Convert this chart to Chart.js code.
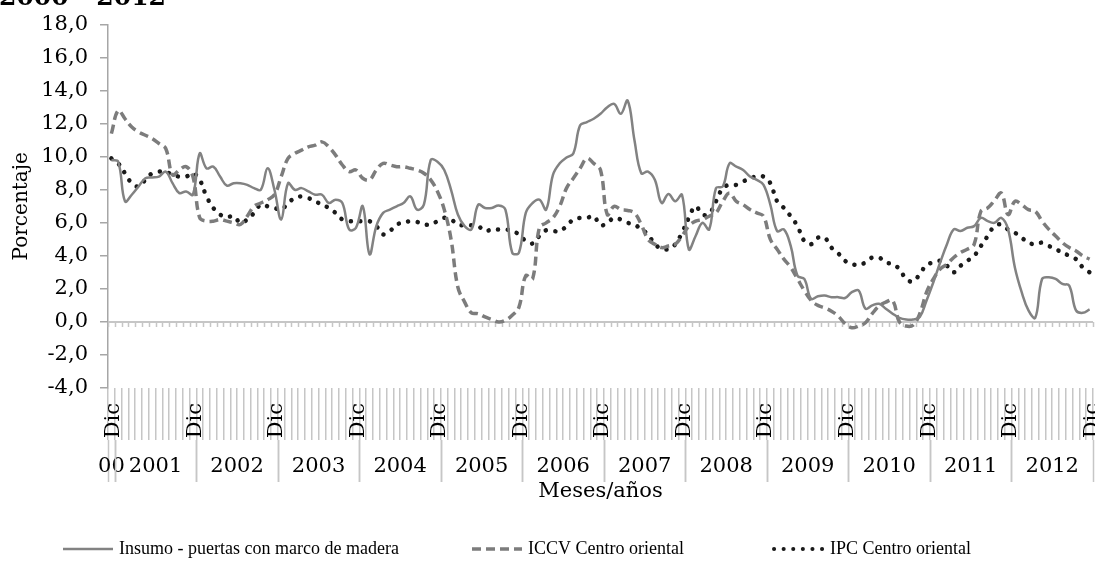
<!DOCTYPE html>
<html>
<head>
<meta charset="utf-8">
<script src="https://cdn.jsdelivr.net/npm/chart.js@4.4.1/dist/chart.umd.min.js"></script>
<style>
  html, body { margin: 0; padding: 0; background: #ffffff; overflow: hidden; }
  #wrap { position: relative; width: 1095px; height: 563px; }
</style>
</head>
<body>
<div id="wrap"><canvas id="chart" width="1095" height="563"></canvas></div>
<script>
// Monthly annual variation (%), December 2000 to December 2012
const chartTitle = '2000 - 2012';
const monthNames = ['Ene', 'Feb', 'Mar', 'Abr', 'May', 'Jun', 'Jul', 'Ago', 'Sep', 'Oct', 'Nov', 'Dic'];
const yearValues = [2000, 2001, 2002, 2003, 2004, 2005, 2006, 2007, 2008, 2009, 2010, 2011, 2012];
const yearLabels = ['00', '2001', '2002', '2003', '2004', '2005', '2006', '2007', '2008', '2009', '2010', '2011', '2012'];
const seriesNames = ['Insumo - puertas con marco de madera', 'ICCV Centro oriental', 'IPC Centro oriental'];
const yTicks = [-4, -2, 0, 2, 4, 6, 8, 10, 12, 14, 16, 18];

const insumo = [
  9.8, 9.7, 7.3, 7.7, 8.2, 8.7, 8.75, 8.8, 9.1, 8.4, 7.8, 7.9, 7.7,
  10.2, 9.3, 9.4, 8.8, 8.25, 8.4, 8.4, 8.3, 8.1, 8.0, 9.3, 8.0,
  6.2, 8.4, 8.0, 8.1, 7.9, 7.7, 7.7, 7.2, 7.4, 7.2, 5.6, 5.7,
  7.0, 4.1, 5.8, 6.6, 6.8, 7.0, 7.2, 7.6, 6.8, 7.1, 9.8, 9.7,
  9.2, 8.0, 6.5, 5.8, 5.6, 7.1, 6.9, 6.9, 7.05, 6.8, 4.2, 4.2,
  6.6, 7.2, 7.4, 6.8, 8.9, 9.6, 9.95, 10.2, 11.9, 12.1, 12.3, 12.6,
  13.0, 13.2, 12.6, 13.4, 11.0, 9.0, 9.1, 8.6, 7.2, 7.75, 7.3, 7.7,
  4.4, 5.2, 6.0, 5.6, 8.1, 8.2, 9.6, 9.4, 9.2, 8.8, 8.6, 8.3,
  7.1, 5.5, 5.6, 4.6, 2.8, 2.6, 1.4, 1.55, 1.6, 1.5, 1.5, 1.45,
  1.8, 1.9, 0.8, 1.0, 1.1, 0.8, 0.5, 0.25, 0.15, 0.15, 0.3, 1.3,
  2.4, 3.6, 4.7, 5.6, 5.5, 5.7, 5.8, 6.3, 6.1, 6.0, 6.3, 5.6,
  3.3, 1.8, 0.7, 0.25, 2.6, 2.7, 2.6, 2.3, 2.2, 0.7, 0.55, 0.76
];

const iccv = [
  11.4, 12.8, 12.3, 11.8, 11.5, 11.3, 11.1, 10.8, 10.5, 8.9, 9.2, 9.4, 8.8,
  6.3, 6.1, 6.1, 6.2, 6.1, 6.0, 5.9, 6.4, 7.0, 7.2, 7.4, 7.7,
  8.8, 9.9, 10.2, 10.4, 10.6, 10.7, 10.9, 10.6, 10.1, 9.5, 9.1, 9.2,
  8.7, 8.6, 9.2, 9.6, 9.5, 9.4, 9.4, 9.3, 9.2, 9.0, 8.6, 7.9,
  6.8, 5.0, 2.1, 1.2, 0.55, 0.5, 0.3, 0.15, 0.0, 0.1, 0.4, 0.9,
  2.8, 2.6, 5.7, 6.0, 6.3, 7.0, 8.1, 8.7, 9.3, 9.9, 9.6, 9.2,
  6.5, 7.0, 6.8, 6.75, 6.6, 5.9, 5.0, 4.7, 4.5, 4.6, 4.7, 5.2,
  5.8, 6.1, 6.2, 6.4, 6.6, 7.3, 7.8, 7.3, 7.1, 6.8, 6.6, 6.4,
  5.0, 4.4, 3.8, 3.3, 2.6, 1.9, 1.3, 1.0, 0.85, 0.65, 0.35, -0.1,
  -0.35, -0.25, -0.05, 0.5, 0.96, 1.2, 1.3, 0.0, -0.25, -0.2, 0.5, 1.8,
  2.6, 3.2, 3.5, 3.9, 4.2, 4.4, 4.7, 6.7, 6.9, 7.35, 7.8, 6.5,
  7.3, 7.1, 6.8, 6.7, 6.1, 5.6, 5.2, 4.8, 4.5, 4.3, 4.0, 3.8
];

const ipc = [
  9.9, 9.6, 9.0, 8.4, 8.2, 8.6, 9.0, 9.1, 9.1, 8.9, 8.8, 8.8, 9.0,
  8.6, 7.6, 6.9, 6.5, 6.35, 6.4, 6.0, 6.2, 6.6, 7.1, 7.0, 6.9,
  6.8, 7.2, 7.5, 7.6, 7.5, 7.3, 7.1, 6.9, 6.6, 6.2, 6.1, 6.1,
  6.1, 6.1, 5.8, 5.3, 5.5, 5.9, 6.0, 6.1, 6.05, 5.9, 5.9, 6.1,
  6.3, 6.2, 5.9, 5.85, 5.85, 5.8, 5.5, 5.6, 5.6, 5.6, 5.5, 5.3,
  4.9, 4.75, 5.2, 5.55, 5.5, 5.5, 5.8, 6.2, 6.3, 6.3, 6.4, 5.85,
  6.0, 6.3, 6.2, 6.0, 5.9, 5.6, 5.3, 4.7, 4.45, 4.4, 4.7, 5.4,
  6.3, 7.0, 6.5, 6.55, 7.3, 8.1, 8.3, 8.3, 8.5, 8.7, 8.8, 8.8,
  8.4, 7.3, 6.9, 6.4, 5.8, 4.9, 4.7, 5.1, 5.1, 4.5, 4.15, 3.7,
  3.5, 3.45, 3.6, 3.9, 3.9, 3.6, 3.5, 3.2, 2.6, 2.45, 2.9, 3.45,
  3.6, 3.7, 3.4, 3.0, 3.4, 3.7, 4.0, 4.6, 5.2, 5.8, 5.9, 5.6,
  5.4, 5.1, 4.8, 4.7, 4.8, 4.6, 4.4, 4.2, 4.0, 3.8, 3.3, 3.0
];

// Category list: December 2000, then every month of 2001-2012
const categories = [{ month: 'Dic', year: yearValues[0] }];
yearValues.slice(1).forEach(y => monthNames.forEach(m => categories.push({ month: m, year: y })));
const categoryLabels = categories.map(c => c.month + ' ' + c.year);

const serifFont = 'DejaVu Serif';
const legendFont = 'Liberation Serif';
const axisGrey = '#a6a6a6';
const tickGrey = '#c6c6c6';

// Horizontal reference line at 0 with small monthly tick marks
const zeroLine = {
  id: 'zeroLine',
  beforeDatasetsDraw(chart) {
    const { ctx, chartArea } = chart;
    const xs = chart.scales.x, ys = chart.scales.y;
    const y0 = ys.getPixelForValue(0);
    const half = (xs.getPixelForValue(1) - xs.getPixelForValue(0)) / 2;
    ctx.save();
    ctx.strokeStyle = tickGrey;
    ctx.lineWidth = 1.5;
    ctx.beginPath();
    for (let i = 0; i <= categories.length; i++) {
      const x = Math.round(xs.getPixelForValue(0) - half + i * 2 * half) + 0.5;
      ctx.moveTo(x, y0);
      ctx.lineTo(x, y0 + 5);
    }
    ctx.stroke();
    ctx.lineWidth = 2;
    ctx.beginPath();
    ctx.moveTo(chartArea.left, y0);
    ctx.lineTo(chartArea.right, y0);
    ctx.stroke();
    ctx.restore();
  }
};

// Year row beneath the monthly labels, the legend row and the partly visible heading
const extras = {
  id: 'extras',
  afterDraw(chart) {
    const { ctx, chartArea } = chart;
    const xs = chart.scales.x;
    const half = (xs.getPixelForValue(1) - xs.getPixelForValue(0)) / 2;
    const top = chartArea.bottom + 52;
    const bottom = chartArea.bottom + 94;
    ctx.save();
    ctx.strokeStyle = tickGrey;
    ctx.lineWidth = 1.5;
    ctx.fillStyle = '#000000';
    ctx.font = '21px "' + serifFont + '"';
    ctx.textAlign = 'center';
    ctx.textBaseline = 'middle';
    let start = 0;
    yearValues.forEach((yr, g) => {
      let end = start;
      while (end + 1 < categories.length && categories[end + 1].year === yr) end++;
      const left = xs.getPixelForValue(start) - half;
      const right = xs.getPixelForValue(end) + half;
      ctx.beginPath();
      [left, right].forEach(x => {
        const xx = Math.round(x) + 0.5;
        ctx.moveTo(xx, top);
        ctx.lineTo(xx, bottom);
      });
      ctx.stroke();
      ctx.fillText(yearLabels[g], (left + right) / 2, chartArea.bottom + 79);
      start = end + 1;
    });

    // legend: a 50px sample of each series' stroke followed by its name
    const legendY = 549;
    const legendStarts = [63, 472, 774];
    ctx.font = '18px "' + legendFont + '"';
    ctx.textAlign = 'left';
    chart.data.datasets.forEach((ds, i) => {
      const x0 = legendStarts[i];
      ctx.save();
      ctx.strokeStyle = ds.borderColor;
      ctx.lineWidth = Math.min(ds.borderWidth, 4);
      ctx.lineCap = ds.borderCapStyle || 'butt';
      ctx.setLineDash(ds.borderDash || []);
      ctx.beginPath();
      ctx.moveTo(x0, legendY);
      ctx.lineTo(x0 + 50, legendY);
      ctx.stroke();
      ctx.restore();
      ctx.fillText(ds.label, x0 + 56, legendY);
    });

    ctx.font = 'bold 25px "' + serifFont + '"';
    ctx.textBaseline = 'alphabetic';
    ctx.fillText(chartTitle, -1, 5);
    ctx.restore();
  }
};

new Chart(document.getElementById('chart').getContext('2d'), {
  type: 'line',
  data: {
    labels: categoryLabels,
    datasets: [
      { label: seriesNames[0], data: insumo, borderColor: '#828282', backgroundColor: '#828282',
        borderWidth: 2.5, tension: 0.4, pointRadius: 0, fill: false },
      { label: seriesNames[1], data: iccv, borderColor: '#7c7c7c', backgroundColor: '#7c7c7c',
        borderWidth: 3.5, borderDash: [9, 5], tension: 0.4, pointRadius: 0, fill: false },
      { label: seriesNames[2], data: ipc, borderColor: '#1a1a1a', backgroundColor: '#1a1a1a',
        borderWidth: 4.5, borderDash: [0.1, 9.5], borderCapStyle: 'round', tension: 0.4, pointRadius: 0, fill: false }
    ]
  },
  options: {
    responsive: false,
    animation: false,
    devicePixelRatio: 1,
    layout: { padding: { top: 24, left: 0, right: 2, bottom: 55 } },
    plugins: {
      tooltip: { enabled: false },
      title: { display: false },
      legend: { display: false }
    },
    scales: {
      x: {
        type: 'category',
        offset: true,
        border: { display: false },
        grid: { display: true, offset: true, drawOnChartArea: false, drawTicks: true,
                tickLength: 52, color: tickGrey, lineWidth: 1.5 },
        ticks: {
          autoSkip: false, minRotation: 90, maxRotation: 90, padding: -37, labelOffset: 2.5,
          color: '#000000', font: { family: serifFont, size: 21 },
          callback: (v, i) => (categories[i].month === 'Dic' ? 'Dic' : '')
        },
        title: { display: true, text: 'Meses/años', color: '#000000',
                 font: { family: serifFont, size: 21 }, padding: { top: 0, bottom: 4 } },
        afterFit: s => { s.height = 120; }
      },
      y: {
        min: -4,
        max: 18,
        border: { color: axisGrey, width: 1.5 },
        grid: { drawOnChartArea: false, drawTicks: true, tickLength: 8, color: axisGrey, lineWidth: 1.5 },
        afterBuildTicks: s => { s.ticks = yTicks.map(v => ({ value: v })); },
        ticks: {
          padding: 12, color: '#000000', font: { family: serifFont, size: 21 },
          callback: v => v.toFixed(1).replace('.', ',')
        },
        title: { display: true, text: 'Porcentaje', color: '#000000',
                 font: { family: serifFont, size: 20 }, padding: { top: 10, bottom: 0 } },
        afterFit: s => { s.width = 108; }
      }
    }
  },
  plugins: [zeroLine, extras]
});
</script>
</body>
</html>
